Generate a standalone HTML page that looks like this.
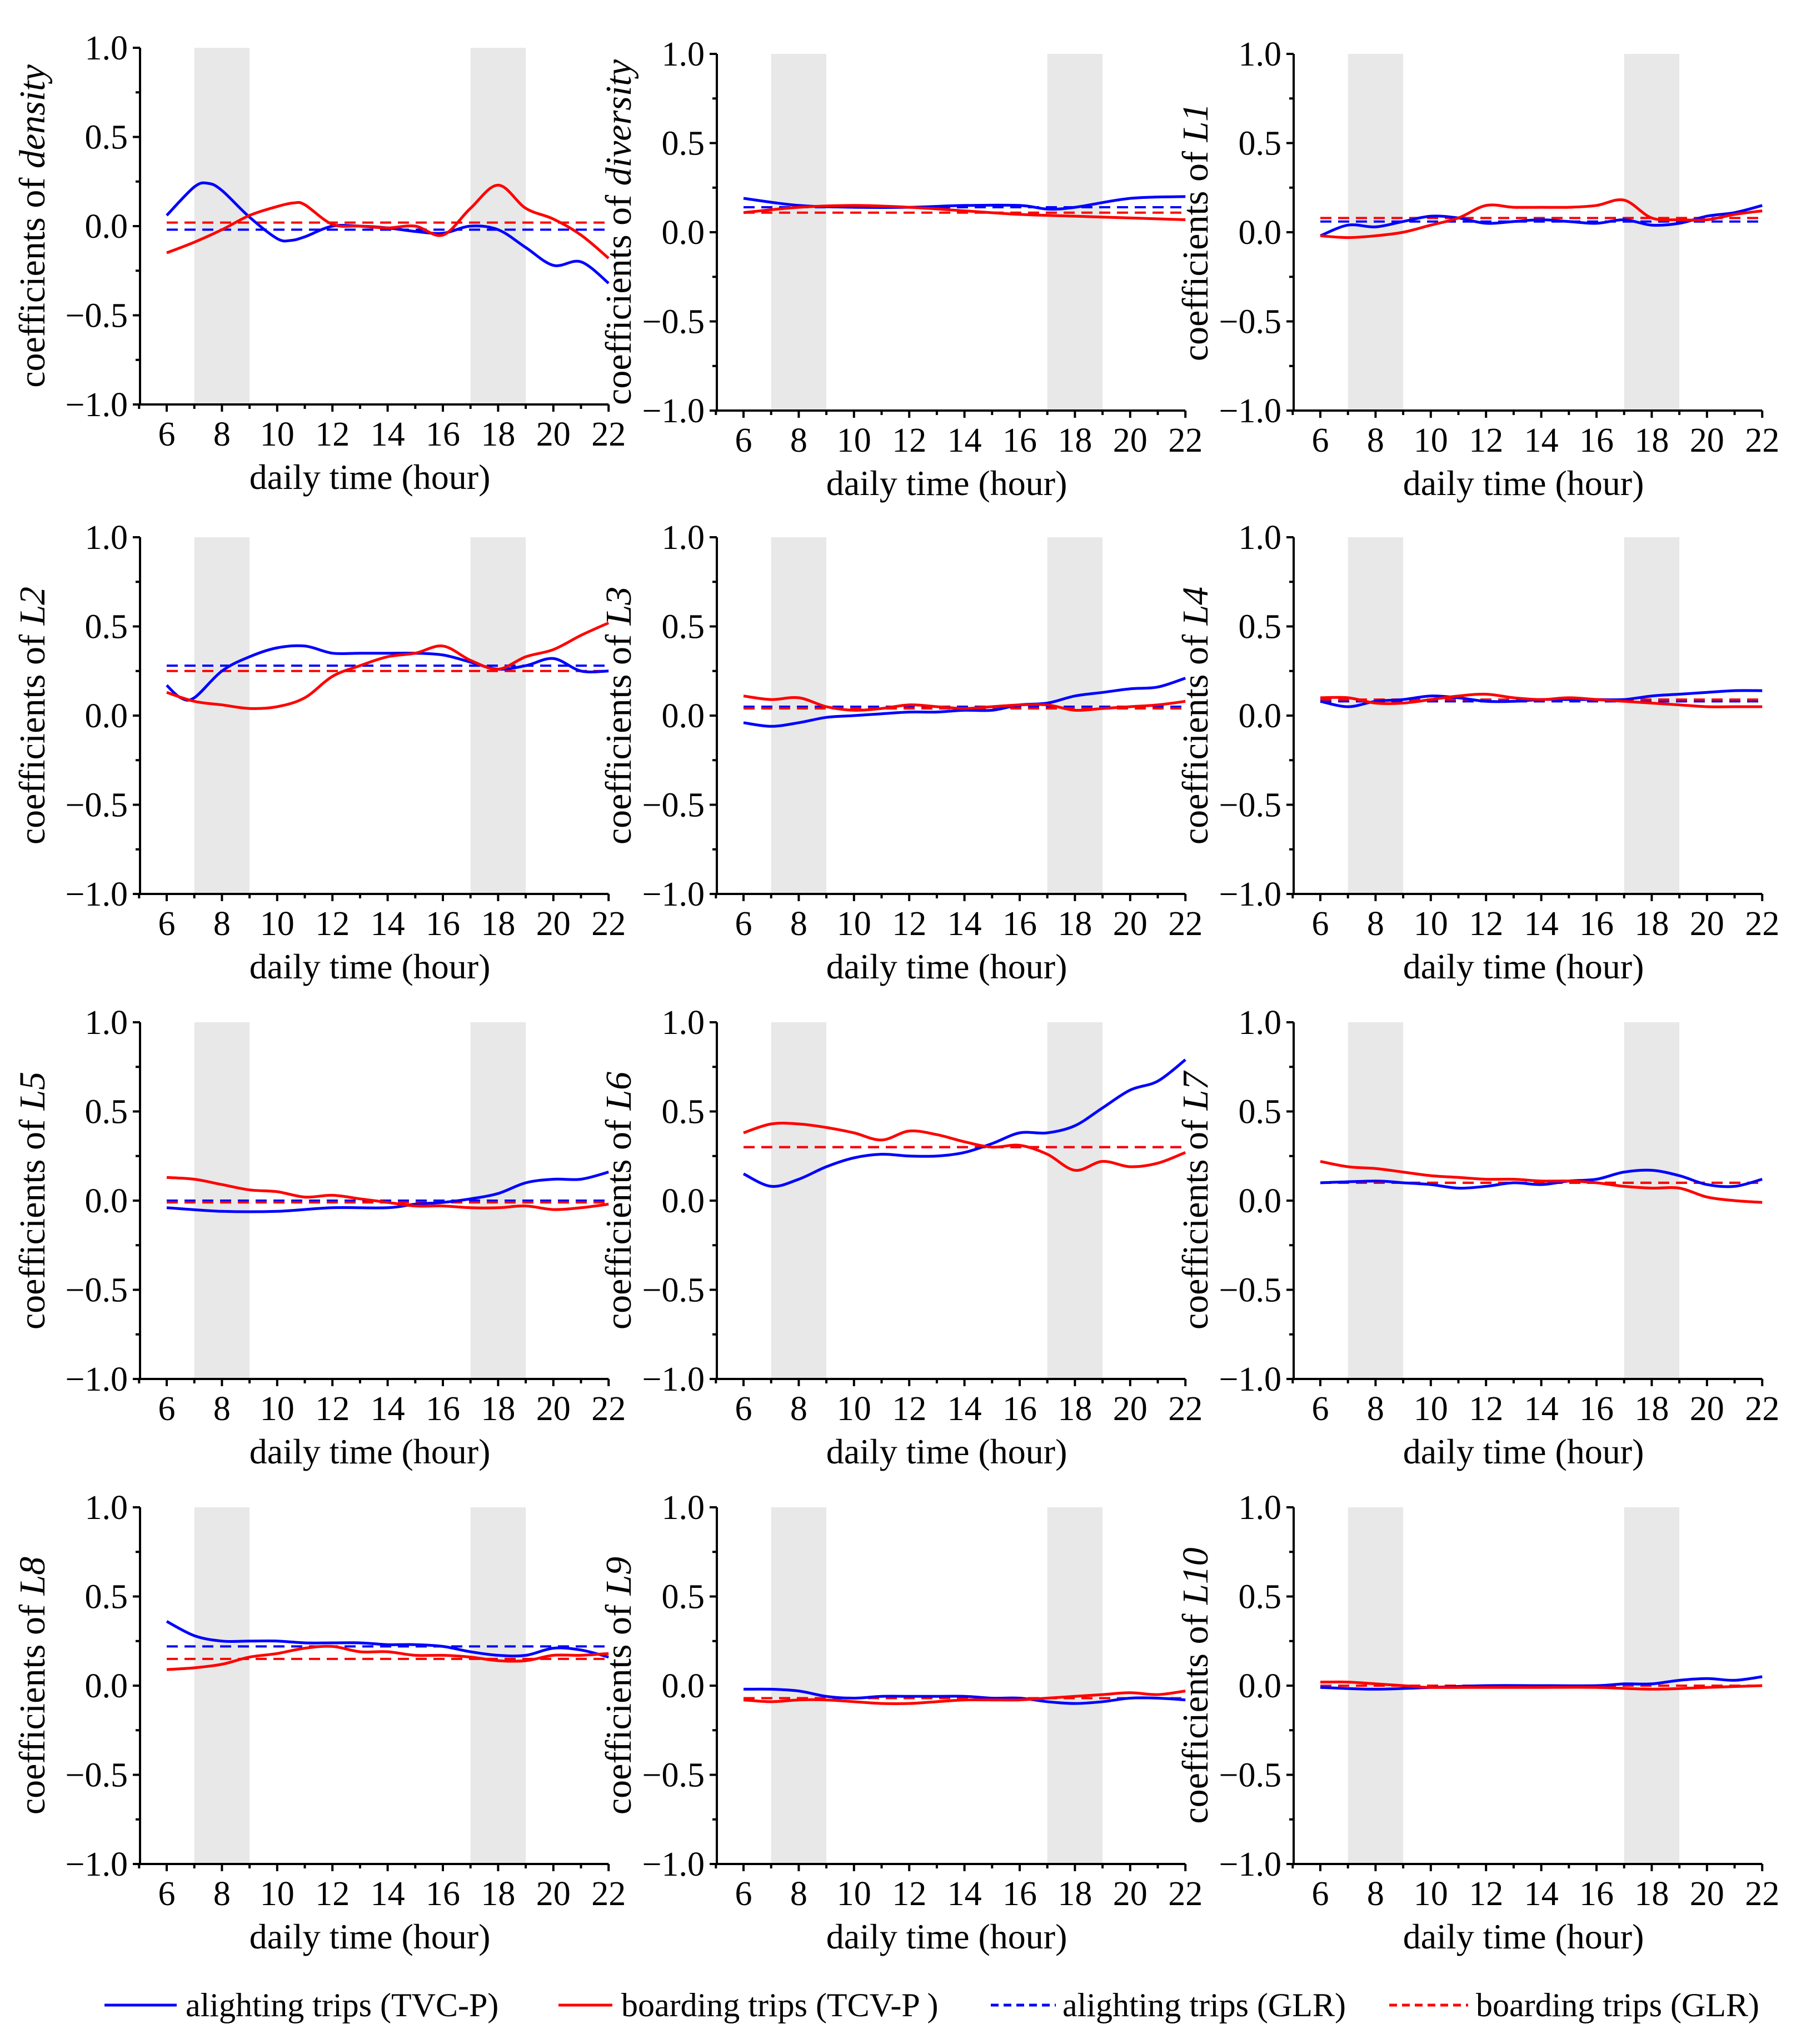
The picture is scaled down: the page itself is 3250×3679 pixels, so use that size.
<!DOCTYPE html>
<html><head><meta charset="utf-8"><style>
html,body{margin:0;padding:0;background:#fff;width:3250px;height:3679px;overflow:hidden}
svg{display:block}
text{font-family:"Liberation Serif",serif;fill:#000}
</style></head><body>
<svg id="chart" width="3250" height="3679" xmlns="http://www.w3.org/2000/svg"></svg>
<script>
const panelNames = ["density","diversity","L1","L2","L3","L4","L5","L6","L7","L8","L9","L10"];
const xTicks = [6,8,10,12,14,16,18,20,22];
const yTicks = [1.0,0.5,0.0,-0.5,-1.0];
const yTickLabels = ["1.0","0.5","0.0","\u22120.5","\u22121.0"];
const peakBands = [[7,9],[17,19]];
const blueGLR = [-0.02,0.14,0.06,0.28,0.05,0.08,0.0,0.3,0.1,0.22,-0.07,0.0];
const redGLR = [0.02,0.11,0.08,0.25,0.04,0.09,-0.01,0.3,0.1,0.15,-0.07,0.0];
const blueTVC = [
 [[6,0.06],[7,0.22],[7.5,0.24],[8,0.2],[9,0.05],[10,-0.07],[10.5,-0.08],[11,-0.06],[12,0.0],[13,0.0],[14,-0.01],[15,-0.03],[16,-0.04],[17,0.0],[18,-0.02],[19,-0.12],[20,-0.22],[21,-0.2],[22,-0.32]],
 [[6,0.19],[8,0.15],[10,0.14],[12,0.14],[14,0.15],[16,0.15],[17,0.13],[18,0.14],[20,0.19],[22,0.2]],
 [[6,-0.02],[7,0.04],[8,0.03],[9,0.06],[10,0.09],[11,0.08],[12,0.05],[13,0.06],[14,0.07],[15,0.06],[16,0.05],[17,0.07],[18,0.04],[19,0.05],[20,0.09],[21,0.11],[22,0.15]],
 [[6,0.17],[6.5,0.1],[7,0.1],[8,0.25],[9,0.33],[10,0.38],[11,0.39],[12,0.35],[13,0.35],[14,0.35],[15,0.35],[16,0.34],[17,0.3],[18,0.26],[19,0.28],[20,0.32],[21,0.25],[22,0.25]],
 [[6,-0.04],[7,-0.06],[8,-0.04],[9,-0.01],[10,0.0],[11,0.01],[12,0.02],[13,0.02],[14,0.03],[15,0.03],[16,0.06],[17,0.07],[18,0.11],[19,0.13],[20,0.15],[21,0.16],[22,0.21]],
 [[6,0.08],[7,0.05],[8,0.08],[9,0.09],[10,0.11],[11,0.1],[12,0.08],[13,0.08],[14,0.09],[15,0.09],[16,0.09],[17,0.09],[18,0.11],[19,0.12],[20,0.13],[21,0.14],[22,0.14]],
 [[6,-0.04],[8,-0.06],[10,-0.06],[12,-0.04],[14,-0.04],[15,-0.02],[16,-0.01],[17,0.01],[18,0.04],[19,0.1],[20,0.12],[21,0.12],[22,0.16]],
 [[6,0.15],[7,0.08],[8,0.12],[9,0.19],[10,0.24],[11,0.26],[12,0.25],[13,0.25],[14,0.27],[15,0.32],[16,0.38],[17,0.38],[18,0.42],[19,0.52],[20,0.62],[21,0.67],[22,0.79]],
 [[6,0.1],[8,0.11],[9,0.1],[10,0.09],[11,0.07],[12,0.08],[13,0.1],[14,0.09],[15,0.11],[16,0.12],[17,0.16],[18,0.17],[19,0.14],[20,0.09],[21,0.08],[22,0.12]],
 [[6,0.36],[7,0.28],[8,0.25],[9,0.25],[10,0.25],[11,0.24],[12,0.24],[13,0.24],[14,0.23],[15,0.23],[16,0.22],[17,0.19],[18,0.17],[19,0.17],[20,0.21],[21,0.2],[22,0.16]],
 [[6,-0.02],[7,-0.02],[8,-0.03],[9,-0.06],[10,-0.07],[11,-0.06],[12,-0.06],[13,-0.06],[14,-0.06],[15,-0.07],[16,-0.07],[17,-0.09],[18,-0.1],[19,-0.09],[20,-0.07],[21,-0.07],[22,-0.08]],
 [[6,-0.01],[8,-0.02],[10,-0.01],[12,0.0],[14,0.0],[16,0.0],[17,0.01],[18,0.01],[19,0.03],[20,0.04],[21,0.03],[22,0.05]]
];
const redTCV = [
 [[6,-0.15],[7,-0.09],[8,-0.02],[9,0.06],[10,0.11],[10.6,0.13],[11,0.12],[12,0.01],[13,0.0],[14,-0.01],[15,0.0],[16,-0.05],[17,0.1],[18,0.23],[19,0.1],[20,0.04],[21,-0.05],[22,-0.18]],
 [[6,0.11],[8,0.14],[10,0.15],[12,0.14],[14,0.12],[16,0.1],[18,0.09],[20,0.08],[22,0.07]],
 [[6,-0.02],[7,-0.03],[8,-0.02],[9,0.0],[10,0.04],[11,0.08],[12,0.15],[13,0.14],[14,0.14],[15,0.14],[16,0.15],[17,0.18],[18,0.08],[19,0.07],[20,0.07],[21,0.1],[22,0.12]],
 [[6,0.13],[7,0.08],[8,0.06],[9,0.04],[10,0.05],[11,0.1],[12,0.22],[13,0.28],[14,0.33],[15,0.35],[16,0.39],[17,0.31],[18,0.26],[19,0.33],[20,0.37],[21,0.45],[22,0.52]],
 [[6,0.11],[7,0.09],[8,0.1],[9,0.05],[10,0.03],[11,0.04],[12,0.06],[13,0.05],[14,0.04],[15,0.05],[16,0.06],[17,0.06],[18,0.03],[19,0.04],[20,0.05],[21,0.06],[22,0.08]],
 [[6,0.1],[7,0.1],[8,0.07],[9,0.07],[10,0.09],[11,0.11],[12,0.12],[13,0.1],[14,0.09],[15,0.1],[16,0.09],[17,0.08],[18,0.07],[19,0.06],[20,0.05],[21,0.05],[22,0.05]],
 [[6,0.13],[7,0.12],[8,0.09],[9,0.06],[10,0.05],[11,0.02],[12,0.03],[13,0.01],[14,-0.01],[15,-0.03],[16,-0.03],[17,-0.04],[18,-0.04],[19,-0.03],[20,-0.05],[21,-0.04],[22,-0.02]],
 [[6,0.38],[7,0.43],[8,0.43],[9,0.41],[10,0.38],[11,0.34],[12,0.39],[13,0.37],[14,0.33],[15,0.3],[16,0.31],[17,0.26],[18,0.17],[19,0.22],[20,0.19],[21,0.21],[22,0.27]],
 [[6,0.22],[7,0.19],[8,0.18],[9,0.16],[10,0.14],[11,0.13],[12,0.12],[13,0.12],[14,0.11],[15,0.11],[16,0.1],[17,0.08],[18,0.07],[19,0.07],[20,0.02],[21,0.0],[22,-0.01]],
 [[6,0.09],[7,0.1],[8,0.12],[9,0.16],[10,0.18],[11,0.21],[12,0.22],[13,0.19],[14,0.19],[15,0.17],[16,0.17],[17,0.16],[18,0.14],[19,0.14],[20,0.17],[21,0.17],[22,0.18]],
 [[6,-0.08],[7,-0.09],[8,-0.08],[9,-0.08],[10,-0.09],[11,-0.1],[12,-0.1],[13,-0.09],[14,-0.08],[15,-0.08],[16,-0.08],[17,-0.07],[18,-0.06],[19,-0.05],[20,-0.04],[21,-0.05],[22,-0.03]],
 [[6,0.02],[7,0.02],[8,0.01],[9,0.0],[10,-0.01],[12,-0.01],[14,-0.01],[16,-0.01],[18,-0.02],[20,-0.01],[22,0.0]]
];

const NS="http://www.w3.org/2000/svg";
const svg=document.getElementById('chart');
function mk(tag,attrs,parent){const e=document.createElementNS(NS,tag);for(const k in attrs)e.setAttribute(k,attrs[k]);(parent||svg).appendChild(e);return e;}
function smoothPath(pts){
  let d="M"+pts[0][0].toFixed(1)+","+pts[0][1].toFixed(1);
  for(let i=0;i<pts.length-1;i++){
    const p0=pts[Math.max(0,i-1)],p1=pts[i],p2=pts[i+1],p3=pts[Math.min(pts.length-1,i+2)];
    const c1x=p1[0]+(p2[0]-p0[0])/6,c1y=p1[1]+(p2[1]-p0[1])/6;
    const c2x=p2[0]-(p3[0]-p1[0])/6,c2y=p2[1]-(p3[1]-p1[1])/6;
    d+=" C"+c1x.toFixed(1)+","+c1y.toFixed(1)+" "+c2x.toFixed(1)+","+c2y.toFixed(1)+" "+p2[0].toFixed(1)+","+p2[1].toFixed(1);
  }
  return d;
}
const HOUR=49.7, PH=642;
for(let p=0;p<12;p++){
  const r=Math.floor(p/3), c=p%3;
  const axL=252+c*1038;
  const top = r===0 ? (c===0?86:97) : 967+(r-1)*873;
  const bot=top+PH;
  const xs=h=>axL+48+(h-6)*HOUR;
  const ys=v=>top+(1-v)/2*PH;
  const g=mk('g',{});
  
  
  peakBands.forEach((b,i)=>{
    const rc=mk('rect',{x:xs(b[0]),y:top,width:xs(b[1])-xs(b[0]),height:PH,fill:'#e8e8e8'},g);
    
    
  });
  const x22=xs(22);
  const bd=mk('line',{x1:xs(6),x2:x22,y1:ys(blueGLR[p]),y2:ys(blueGLR[p]),stroke:'#0000ff','stroke-width':4,'stroke-dasharray':'20 12'},g);
  
  
  const rd=mk('line',{x1:xs(6),x2:x22,y1:ys(redGLR[p]),y2:ys(redGLR[p]),stroke:'#ff0000','stroke-width':4,'stroke-dasharray':'20 12'},g);
  
  
  const bl=mk('path',{d:smoothPath(blueTVC[p].map(q=>[xs(q[0]),ys(q[1])])),fill:'none',stroke:'#0000ff','stroke-width':5},g);
  
  
  const rl=mk('path',{d:smoothPath(redTCV[p].map(q=>[xs(q[0]),ys(q[1])])),fill:'none',stroke:'#ff0000','stroke-width':5},g);
  
  
  const ax=mk('path',{d:`M${axL},${top} L${axL},${bot} L${x22},${bot}`,fill:'none',stroke:'#000','stroke-width':4},g);
  
  
  yTicks.forEach((v,i)=>{
    mk('line',{x1:axL-13,x2:axL,y1:ys(v),y2:ys(v),stroke:'#000','stroke-width':4},g);
    const t=mk('text',{x:axL-22,y:ys(v)+21,'font-size':62,'text-anchor':'end'},g);
    t.textContent=yTickLabels[i];
    
    
  });
  [0.75,0.25,-0.25,-0.75].forEach(v=>mk('line',{x1:axL-8,x2:axL,y1:ys(v),y2:ys(v),stroke:'#000','stroke-width':4},g));
  for(let h=5;h<=22;h++){
    const major=(h%2===0)&&h>=6;
    mk('line',{x1:xs(h),x2:xs(h),y1:bot,y2:bot+(major?13:8),stroke:'#000','stroke-width':4},g);
  }
  xTicks.forEach(h=>{
    const t=mk('text',{x:xs(h),y:bot+74,'font-size':62,'text-anchor':'middle'},g);
    t.textContent=h;
    
    
  });
  const xt=mk('text',{x:(axL+x22)/2-8,y:bot+152,'font-size':64,'text-anchor':'middle'},g);
  xt.textContent='daily time (hour)';
  
  
  const cy=(top+bot)/2, cx=axL-(c===0?172:155);
  const yt=mk('text',{x:cx,y:cy,'font-size':66,'text-anchor':'middle',transform:`rotate(-90 ${cx} ${cy})`},g);
  
  
  const s1=mk('tspan',{},yt); s1.textContent='coefficients of ';
  const s2=mk('tspan',{'font-style':'italic'},yt); s2.textContent=panelNames[p];
}
const legendItems=[
 {x1:188,x2:318,tx:334,col:'#0000ff',dash:null,label:'alighting trips (TVC-P)',name:'legend-alighting-tvc'},
 {x1:1005,x2:1102,tx:1118,col:'#ff0000',dash:null,label:'boarding trips (TCV-P )',name:'legend-boarding-tcv'},
 {x1:1783,x2:1900,tx:1912,col:'#0000ff',dash:'14 9',label:'alighting trips  (GLR)',name:'legend-alighting-glr'},
 {x1:2500,x2:2642,tx:2656,col:'#ff0000',dash:'14 9',label:'boarding trips (GLR)',name:'legend-boarding-glr'}
];
legendItems.forEach(it=>{
  const g=mk('g',{});
  
  
  const a={x1:it.x1,x2:it.x2,y1:3609,y2:3609,stroke:it.col,'stroke-width':5};
  if(it.dash)a['stroke-dasharray']=it.dash;
  mk('line',a,g);
  const t=mk('text',{x:it.tx,y:3629,'font-size':60},g);
  t.textContent=it.label;
});
</script>
</body></html>
